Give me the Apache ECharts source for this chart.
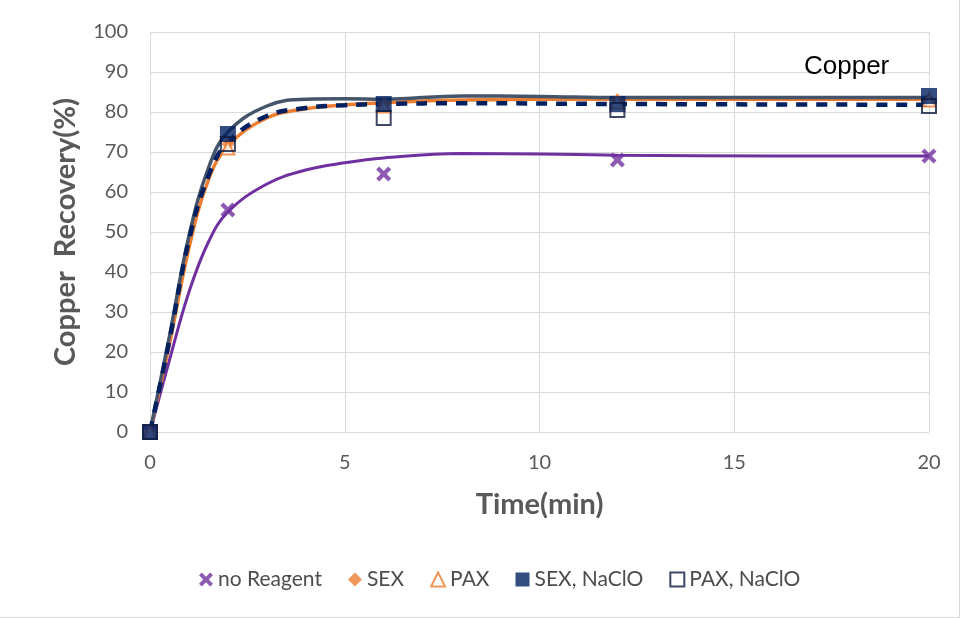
<!DOCTYPE html>
<html><head><meta charset="utf-8">
<script src="https://cdn.jsdelivr.net/npm/echarts@6/dist/echarts.min.js"></script>
<style>html,body{margin:0;padding:0;background:#fff}#c{width:959px;height:617px;border-right:1px solid #d9d9d9;border-bottom:1px solid #d9d9d9}</style>
</head><body><div id="c"></div>
<script>
// Measured points (markers)
const timeMarkers = [0, 2, 6, 12, 20];
const noReagent = [0, 55.5, 64.5, 68, 69];
const sex = [0, 72, 82, 83, 83];
const pax = [0, 71, 81.5, 82.5, 83];
const sexNaClO = [0, 74.5, 82, 82, 84];
const paxNaClO = [0, 72, 78.5, 80.5, 81.5];

// Fitted curves
const fitPurpleT = [0, 0.5, 1, 1.5, 2, 3, 4, 5, 6, 8, 10, 12, 16, 20];
const fitPurpleV = [0, 18, 35, 47.5, 55, 62, 65.5, 67.3, 68.5, 69.6, 69.5, 69.2, 69, 69];
const fitGreyT = [0, 0.5, 1, 1.5, 2, 3, 4, 5, 6, 8, 10, 12, 20];
const fitGreyV = [0, 24, 49, 66, 75, 81.5, 83.2, 83.3, 83.2, 84, 83.9, 83.6, 83.6];
const fitOrangeT = [0, 0.5, 1, 1.5, 2, 3, 4, 5, 6, 8, 12, 20];
const fitOrangeV = [0, 22, 46, 63, 71.5, 78.5, 80.8, 81.8, 82.3, 83, 83.2, 83.2];
const fitNavyT = [0, 0.5, 1, 1.5, 2, 3, 4, 5, 6, 8, 12, 20];
const fitNavyV = [0, 23, 48, 64, 72.5, 79, 81, 81.7, 82, 82.2, 82, 81.8];

const xTicks = [0, 5, 10, 15, 20];
const yTicks = [0, 10, 20, 30, 40, 50, 60, 70, 80, 90, 100];

const zip = (a, b) => a.map((v, i) => [v, b[i]]);
const xPath = 'path://M2,0 L5,3 L8,0 L10,2 L7,5 L10,8 L8,10 L5,7 L2,10 L0,8 L3,5 L0,2 Z';
const font = 'Lato, "Open Sans", sans-serif';

const chart = echarts.init(document.getElementById('c'));
chart.setOption({
  animation: false,
  grid: {left: 150, right: 30, top: 32, bottom: 185},
  title: {text: 'Copper', left: 799, top: 49, textStyle: {fontFamily: 'Liberation Sans, Arial', fontWeight: 'normal', fontSize: 26, color: '#000'}},
  xAxis: {
    type: 'value', min: 0, max: 20, interval: 5,
    name: 'Time(min)', nameLocation: 'middle', nameGap: 58,
    nameTextStyle: {fontFamily: font, fontWeight: 'bold', fontSize: 29, color: '#595959'},
    axisLine: {show: false}, axisTick: {show: false},
    axisLabel: {fontFamily: font, fontSize: 20, color: '#595959', margin: 21, formatter: v => xTicks.includes(v) ? String(v) : ''},
    splitLine: {show: true, lineStyle: {color: '#d9d9d9', width: 1}}
  },
  yAxis: {
    type: 'value', min: 0, max: 100, interval: 10,
    name: 'Copper  Recovery(%)', nameLocation: 'middle', nameGap: 70,
    nameTextStyle: {fontFamily: font, fontWeight: 'bold', fontSize: 29, color: '#595959'},
    axisLine: {show: false}, axisTick: {show: false},
    axisLabel: {fontFamily: font, fontSize: 20, color: '#595959', margin: 22, formatter: v => yTicks.includes(v) ? String(v) : ''},
    splitLine: {show: true, lineStyle: {color: '#d9d9d9', width: 1}}
  },
  legend: {
    bottom: 22, left: 194, itemGap: 26, itemWidth: 14, itemHeight: 14,
    textStyle: {fontFamily: font, fontSize: 21, color: '#4d4d4d'},
    data: ['no Reagent', 'SEX', 'PAX', 'SEX, NaClO', 'PAX, NaClO']
  },
  series: [
    {name: 'fitPurple', type: 'line', data: zip(fitPurpleT, fitPurpleV), smooth: 0.4, symbol: 'none', lineStyle: {color: '#7030A0', width: 3}, z: 2},
    {name: 'fitOrange', type: 'line', data: zip(fitOrangeT, fitOrangeV), smooth: 0.4, symbol: 'none', lineStyle: {color: '#ED7D31', width: 3.5}, z: 2},
    {name: 'fitGrey', type: 'line', data: zip(fitGreyT, fitGreyV), smooth: 0.4, symbol: 'none', lineStyle: {color: '#44546A', width: 3.5}, z: 2},
    {name: 'fitNavy', type: 'line', data: zip(fitNavyT, fitNavyV), smooth: 0.4, symbol: 'none', lineStyle: {color: '#002060', width: 4.5, type: [11, 9]}, z: 3},
    {name: 'no Reagent', type: 'scatter', data: zip(timeMarkers, noReagent), symbol: xPath, symbolSize: 15, itemStyle: {color: '#7030A0'}, z: 5},
    {name: 'SEX', type: 'scatter', data: zip(timeMarkers, sex), symbol: 'diamond', symbolSize: 13, itemStyle: {color: '#ED7D31'}, z: 5},
    {name: 'PAX', type: 'scatter', data: zip(timeMarkers, pax), symbol: 'triangle', symbolSize: 13, itemStyle: {color: '#fff', borderColor: '#ED7D31', borderWidth: 2}, z: 5},
    {name: 'SEX, NaClO', type: 'scatter', data: zip(timeMarkers, sexNaClO), symbol: 'rect', symbolSize: 16, itemStyle: {color: '#002060'}, z: 5},
    {name: 'PAX, NaClO', type: 'scatter', data: zip(timeMarkers, paxNaClO), symbol: 'rect', symbolSize: 14, itemStyle: {color: 'rgba(255,255,255,0)', borderColor: '#0d1a40', borderWidth: 2}, z: 6}
  ]
});
</script></body></html>
